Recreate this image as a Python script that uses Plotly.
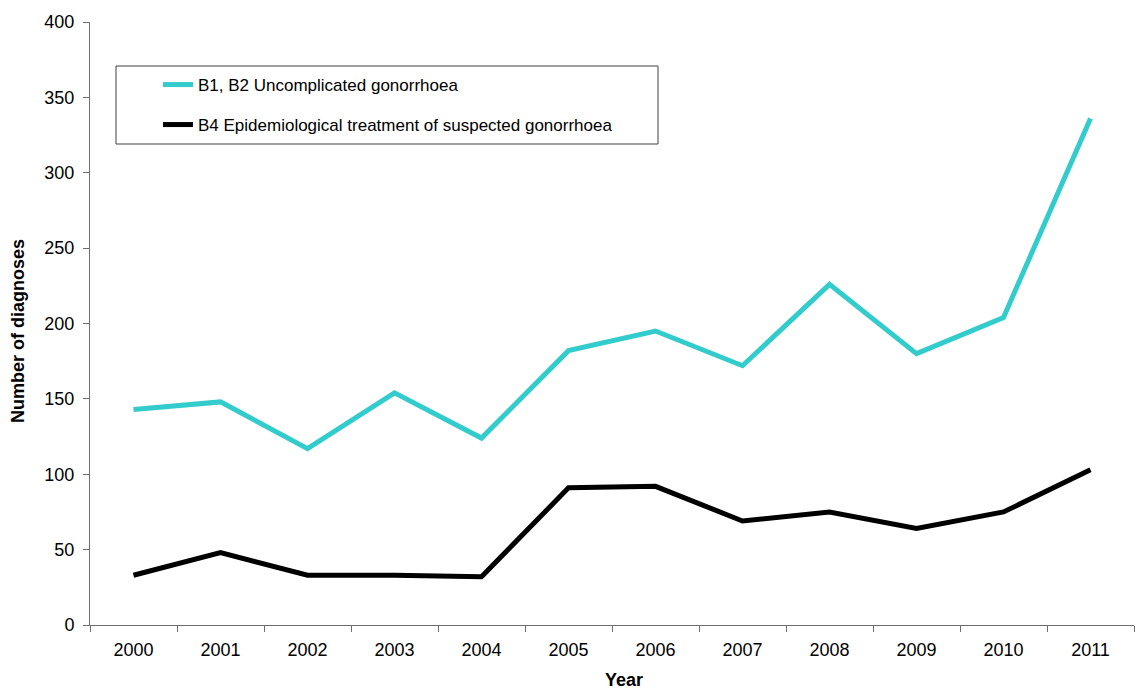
import plotly.graph_objects as go

years = ["2000", "2001", "2002", "2003", "2004", "2005", "2006", "2007", "2008", "2009", "2010", "2011"]
uncomplicated = [143, 148, 117, 154, 124, 182, 195, 172, 226, 180, 204, 336]
epidemiological = [33, 48, 33, 33, 32, 91, 92, 69, 75, 64, 75, 103]
series_names = ["B1, B2 Uncomplicated gonorrhoea", "B4 Epidemiological treatment of suspected gonorrhoea"]
y_ticks = [0, 50, 100, 150, 200, 250, 300, 350, 400]
x_title = "Year"
y_title = "Number of diagnoses"

W, H = 1137, 690
ml, mr, mt, mb = 90, 3, 22, 65
pw, ph = W - ml - mr, H - mt - mb

def px_x(p):
    return (p - ml) / pw

def px_y(p):
    return (H - mb - p) / ph

fig = go.Figure()
fig.add_trace(go.Scatter(x=years, y=uncomplicated, mode="lines", name=series_names[0],
                         line=dict(color="#33CCCC", width=5), legend="legend"))
fig.add_trace(go.Scatter(x=years, y=epidemiological, mode="lines", name=series_names[1],
                         line=dict(color="#000000", width=5), legend="legend2"))

font = "Liberation Sans, Arial, sans-serif"
leg_common = dict(xanchor="left", yanchor="middle", bgcolor="rgba(0,0,0,0)",
                  borderwidth=0, font=dict(family=font, size=17, color="#000"))

fig.update_layout(
    width=W, height=H,
    margin=dict(l=ml, r=mr, t=mt, b=mb),
    paper_bgcolor="white", plot_bgcolor="white",
    font=dict(family=font, color="#000"),
    showlegend=True,
    legend=dict(x=px_x(158), y=px_y(85), **leg_common),
    legend2=dict(x=px_x(158), y=px_y(125), **leg_common),
    xaxis=dict(
        type="category", range=[-0.5, 11.5], tickson="boundaries",
        showline=True, linecolor="#6f6f6f", linewidth=1,
        ticks="outside", ticklen=6, tickcolor="#6f6f6f",
        ticklabelstandoff=8,
        showgrid=False, zeroline=False,
        tickfont=dict(size=18, family=font, color="#000"),
    ),
    yaxis=dict(
        range=[0, 400], tickvals=y_ticks,
        showline=True, linecolor="#6f6f6f", linewidth=1,
        ticks="outside", ticklen=6, tickcolor="#6f6f6f",
        ticklabelstandoff=5,
        showgrid=False, zeroline=False,
        tickfont=dict(size=18, family=font, color="#000"),
    ),
    annotations=[
        dict(text="<b>%s</b>" % x_title, xref="paper", yref="paper",
             x=px_x(624), y=px_y(680), xanchor="center", yanchor="middle", showarrow=False,
             font=dict(size=18, family=font, color="#000")),
        dict(text="<b>%s</b>" % y_title, xref="paper", yref="paper", textangle=-90,
             x=px_x(18), y=px_y(331), xanchor="center", yanchor="middle", showarrow=False,
             font=dict(size=18, family=font, color="#000")),
    ],
    shapes=[dict(type="rect", xref="paper", yref="paper",
                 x0=px_x(116), x1=px_x(658), y0=px_y(144), y1=px_y(66),
                 line=dict(color="#404040", width=1), fillcolor="rgba(0,0,0,0)", layer="below")],
)

fig.write_html("out.html")
